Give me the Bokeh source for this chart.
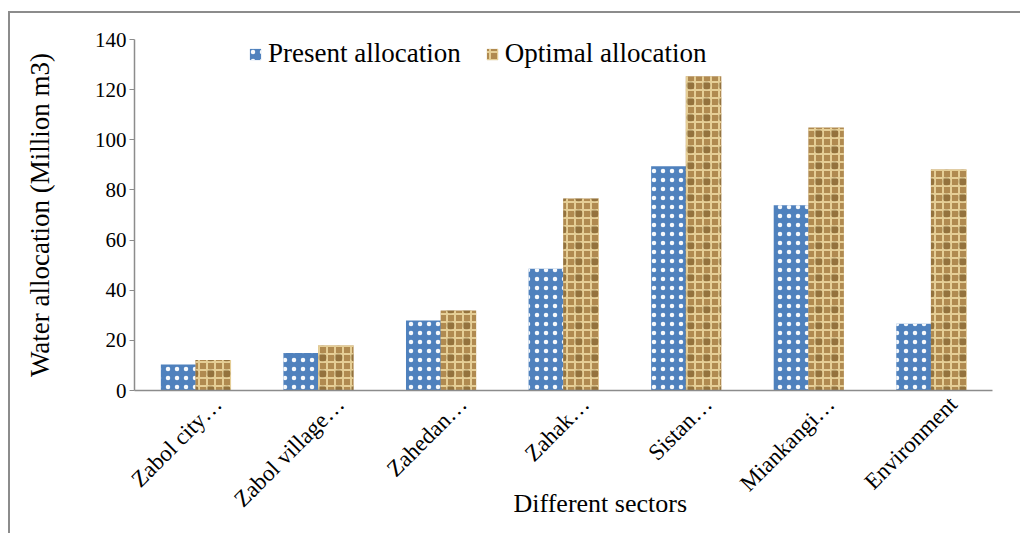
from bokeh.plotting import figure
from bokeh.models import (ColumnDataSource, FixedTicker, Legend, LegendItem, Title,
                          Range1d, LinearAxis)
from bokeh.core.properties import value
from bokeh.transform import dodge
from bokeh.embed import file_html
from bokeh.resources import INLINE
import math

categories = ["Zabol city\u2026", "Zabol village\u2026", "Zahedan\u2026", "Zahak\u2026",
              "Sistan\u2026", "Miankangi\u2026", "Environment"]
present = [10.4, 15.0, 27.9, 48.6, 89.4, 73.9, 26.6]
optimal = [12.2, 17.9, 31.9, 76.6, 125.3, 104.9, 88.1]
y_ticks = [0, 20, 40, 60, 80, 100, 120, 140]

FONT = "Liberation Serif"
AXIS_GRAY = "#8c8c8c"

n = len(categories)
idx = list(range(n))
src = ColumnDataSource(dict(idx=idx, cat=categories, present=present, optimal=optimal))

p = figure(frame_width=858, frame_height=351, x_range=Range1d(-0.5, n - 0.5),
           y_range=(0, 140), output_backend="svg", toolbar_location=None,
           min_border_left=124, min_border_right=28, min_border_top=26, min_border_bottom=143,
           styles={"border-top": "2px solid #8c8c8c", "border-left": "2px solid #8c8c8c",
                   "margin-top": "11px", "margin-left": "8px"})
p.outline_line_color = None
p.xgrid.grid_line_color = None
p.ygrid.grid_line_color = None

r1 = p.vbar(x=dodge("idx", -0.1425), top="present", width=0.285, source=src,
            fill_color="#4f81bd", line_color=None,
            hatch_pattern=value("dot"), hatch_color="white", hatch_scale=9, hatch_weight=1,
            hatch_alpha=0.95)
r2 = p.vbar(x=dodge("idx", 0.1425), top="optimal", width=0.29, source=src,
            fill_color="#b08a50", line_color=None,
            hatch_pattern=value("cross"), hatch_color="#efd9a2", hatch_scale=8, hatch_weight=2,
            hatch_alpha=0.85)
p.vbar(x=dodge("idx", 0.1425), top="optimal", width=0.29, source=src,
       fill_color=None, line_color=None,
       hatch_pattern=value("dot"), hatch_color="#5e4419", hatch_scale=16, hatch_weight=1,
       hatch_alpha=0.35)

# y axis
p.yaxis.ticker = FixedTicker(ticks=y_ticks)
p.yaxis.minor_tick_line_color = None
p.yaxis.major_tick_in = 0
p.yaxis.major_tick_out = 5
p.yaxis.axis_line_color = AXIS_GRAY
p.yaxis.major_tick_line_color = AXIS_GRAY
p.yaxis.axis_line_width = 1.5
p.yaxis.major_label_text_font = FONT
p.yaxis.major_label_text_font_size = "21px"
p.yaxis.major_label_text_color = "black"
p.yaxis.major_label_standoff = 3
p.yaxis.axis_label = "Water allocation (Million m3)"
p.yaxis.axis_label_text_font = FONT
p.yaxis.axis_label_text_font_size = "27px"
p.yaxis.axis_label_text_font_style = "normal"
p.yaxis.axis_label_text_color = "black"
p.yaxis.axis_label_standoff = 37

# x axis: category labels on a shifted helper range (Excel places them right of centre)
p.xaxis.visible = False
shift = 0.18
p.extra_x_ranges = {"lab": Range1d(-0.5 - shift, n - 0.5 - shift)}
xax = LinearAxis(x_range_name="lab", ticker=FixedTicker(ticks=idx),
                 major_label_overrides={i: c for i, c in zip(idx, categories)})
xax.major_tick_line_color = None
xax.minor_tick_line_color = None
xax.axis_line_color = AXIS_GRAY
xax.axis_line_width = 1.5
xax.major_label_orientation = math.pi / 4
xax.major_label_text_font = FONT
xax.major_label_text_font_size = "23px"
xax.major_label_text_color = "black"
xax.major_label_standoff = 4
p.add_layout(xax, "below")

p.add_layout(Title(text="Different sectors", align="left", offset=379, standoff=-70,
                   vertical_align="top",
                   text_font=FONT, text_font_size="26px", text_font_style="normal",
                   text_color="black"), "below")

legend = Legend(items=[LegendItem(label="Present allocation", renderers=[r1]),
                       LegendItem(label="Optimal allocation", renderers=[r2])],
                location=(114, 321), orientation="horizontal",
                label_text_font=FONT, label_text_font_size="27px", label_text_color="black",
                glyph_width=14, glyph_height=14, label_standoff=6, spacing=24,
                padding=0, margin=0, border_line_color=None, background_fill_alpha=0,
                label_height=30)
p.add_layout(legend, "center")

open("out.html", "w").write(file_html(p, INLINE))
